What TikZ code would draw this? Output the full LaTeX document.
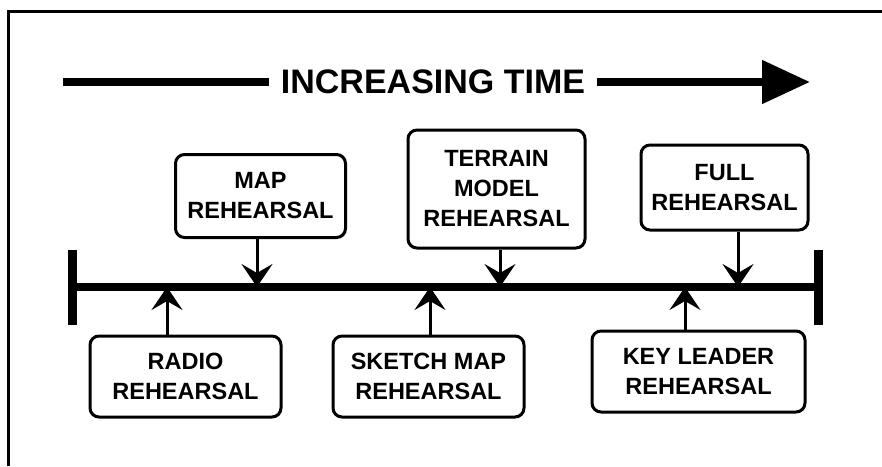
\documentclass[tikz,border=0pt]{standalone}
\usepackage{fontspec}
\setmainfont{Liberation Sans}
\usetikzlibrary{arrows.meta,positioning}

\begin{document}
\begin{tikzpicture}[x=1pt,y=-1pt,
    event/.style={draw, line width=3pt, rounded corners=9pt, align=center,
      font=\bfseries\fontsize{23.5}{30}\selectfont, inner sep=0pt},
    pointer/.style={line width=3pt, -{Stealth[length=23pt,width=31pt,inset=9pt]}},
    axis/.style={line width=8pt},
    shorten >=0pt]
  \useasboundingbox (0,0) rectangle (882,466);
  % frame
  \draw[line width=3pt] (8,466) -- (8,11) -- (882,11);

  % title
  \node[font=\bfseries\fontsize{34}{34}\selectfont, inner sep=0pt, outer sep=12pt] (title) at (433,82) {INCREASING TIME};
  \coordinate (tl) at (63,82);
  \coordinate (tr) at (810,82);
  \draw[axis] (tl) -- (title.west);
  \draw[axis, -{Triangle[length=48pt,width=42pt]}] (title.east) -- (tr);

  % time line
  \coordinate (t0) at (72,287);
  \coordinate (t1) at (818,287);
  \draw[axis] (t0) -- (t1);
  \draw[line width=9pt] (72,250) -- (72,325);
  \draw[line width=9pt] (818,250) -- (818,325);

  % rehearsals above the line
  \node[event, minimum width=170pt, minimum height=83pt] (map) at (260.5,196) {MAP\\REHEARSAL};
  \node[event, minimum width=177pt, minimum height=118pt] (terrain) at (496.5,189) {TERRAIN\\MODEL\\REHEARSAL};
  \node[event, minimum width=167pt, minimum height=85pt] (full) at (724.5,187.5) {FULL\\REHEARSAL};

  % rehearsals below the line
  \node[event, minimum width=191pt, minimum height=81pt] (radio) at (185.5,376.5) {RADIO\\REHEARSAL};
  \node[event, minimum width=191pt, minimum height=81pt] (sketch) at (428.5,376.5) {SKETCH MAP\\REHEARSAL};
  \node[event, minimum width=213pt, minimum height=81pt] (key) at (698.5,371.5) {KEY LEADER\\REHEARSAL};

  \coordinate (pmap) at (257,287);
  \coordinate (pterrain) at (500,287);
  \coordinate (pfull) at (738,287);
  \coordinate (pradio) at (167,287);
  \coordinate (psketch) at (430,287);
  \coordinate (pkey) at (685,287);

  \draw[pointer] (map.south -| pmap) -- (pmap);
  \draw[pointer] (terrain.south -| pterrain) -- (pterrain);
  \draw[pointer] (full.south -| pfull) -- (pfull);
  \draw[pointer] (radio.north -| pradio) -- (pradio);
  \draw[pointer] (sketch.north -| psketch) -- (psketch);
  \draw[pointer] (key.north -| pkey) -- (pkey);
\end{tikzpicture}
\end{document}
